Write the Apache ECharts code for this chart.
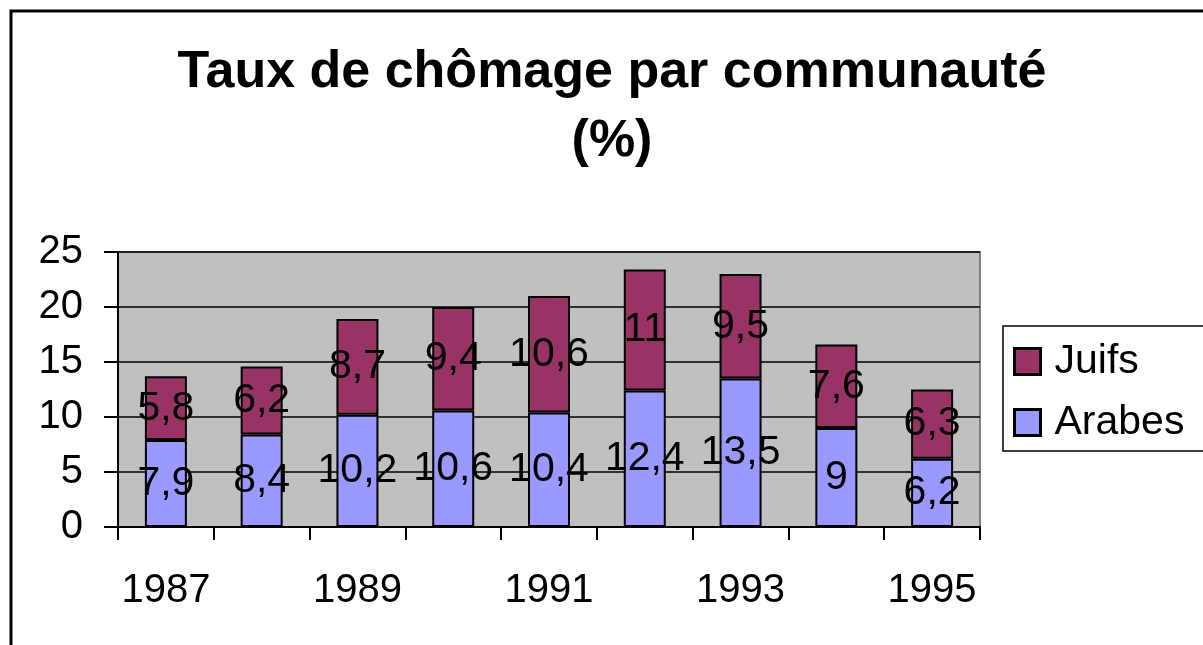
<!DOCTYPE html>
<html>
<head>
<meta charset="utf-8">
<script src="https://cdn.jsdelivr.net/npm/echarts@6/dist/echarts.min.js"></script>
<style>
  html, body { margin: 0; padding: 0; background: #fff; }
  #chart { width: 1203px; height: 645px; }
</style>
</head>
<body>
<div id="chart"></div>
<script>
var years = ["1987", "1988", "1989", "1990", "1991", "1992", "1993", "1994", "1995"];
var arabes = [7.9, 8.4, 10.2, 10.6, 10.4, 12.4, 13.5, 9, 6.2];
var juifs = [5.8, 6.2, 8.7, 9.4, 10.6, 11, 9.5, 7.6, 6.3];
var yTicks = { min: 0, max: 25, interval: 5 };

var font = "Liberation Sans, Arial, sans-serif";
var chart = echarts.init(document.getElementById("chart"));

// virgule décimale comme dans l'original
function virgule(p) {
  return String(p.value).replace(".", ",");
}

var option = {
  animation: false,
  title: {
    text: "Taux de chômage par communauté\n(%)",
    left: 612,
    top: 38,
    padding: 0,
    textAlign: "center",
    textStyle: {
      fontFamily: font,
      fontSize: 52,
      fontWeight: "bold",
      color: "#000",
      lineHeight: 69,
    },
  },
  graphic: [
    {
      type: "rect",
      shape: { x: 11, y: 11, width: 1300, height: 700 },
      style: { fill: "none", stroke: "#000", lineWidth: 3 },
      silent: true,
    },
  ],
  legend: {
    data: ["Juifs", "Arabes"],
    orient: "vertical",
    left: 1003,
    top: 326,
    padding: [15, 200, 8, 10],
    itemGap: 20,
    itemWidth: 26,
    itemHeight: 26,
    borderColor: "#000",
    borderWidth: 1.5,
    selectedMode: false,
    icon: "rect",
    itemStyle: { borderColor: "#000", borderWidth: 3 },
    textStyle: {
      fontFamily: font,
      fontSize: 41,
      lineHeight: 41,
      color: "#000",
      padding: [0, 0, 0, 9],
    },
  },
  grid: {
    left: 118,
    top: 252,
    right: 223,
    bottom: 118,
    show: true,
    backgroundColor: "#C0C0C0",
    borderColor: "#808080",
    borderWidth: 2,
  },
  xAxis: {
    type: "category",
    data: years,
    axisLine: { lineStyle: { color: "#000", width: 2 } },
    axisTick: { show: true, interval: 0, length: 13, lineStyle: { color: "#000", width: 2 } },
    axisLabel: {
      interval: 1,
      margin: 44,
      fontFamily: font,
      fontSize: 40,
      color: "#000",
    },
  },
  yAxis: {
    type: "value",
    min: yTicks.min,
    max: yTicks.max,
    interval: yTicks.interval,
    axisLine: { show: true, lineStyle: { color: "#000", width: 2 } },
    axisTick: { show: true, length: 14, lineStyle: { color: "#000", width: 2 } },
    axisLabel: {
      margin: 35,
      fontFamily: font,
      fontSize: 40,
      color: "#000",
    },
    splitLine: { lineStyle: { color: "#000", width: 1.5 } },
  },
  series: [
    {
      name: "Arabes",
      type: "bar",
      stack: "total",
      barWidth: 42,
      data: arabes,
      itemStyle: { color: "#9999FF", borderColor: "#000", borderWidth: 2 },
      label: {
        show: true,
        position: "inside",
        formatter: virgule,
        fontFamily: font,
        fontSize: 41,
        color: "#000",
      },
    },
    {
      name: "Juifs",
      type: "bar",
      stack: "total",
      barWidth: 42,
      data: juifs,
      itemStyle: { color: "#993366", borderColor: "#000", borderWidth: 2 },
      label: {
        show: true,
        position: "inside",
        formatter: virgule,
        fontFamily: font,
        fontSize: 41,
        color: "#000",
      },
    },
  ],
};

chart.setOption(option);
</script>
</body>
</html>
